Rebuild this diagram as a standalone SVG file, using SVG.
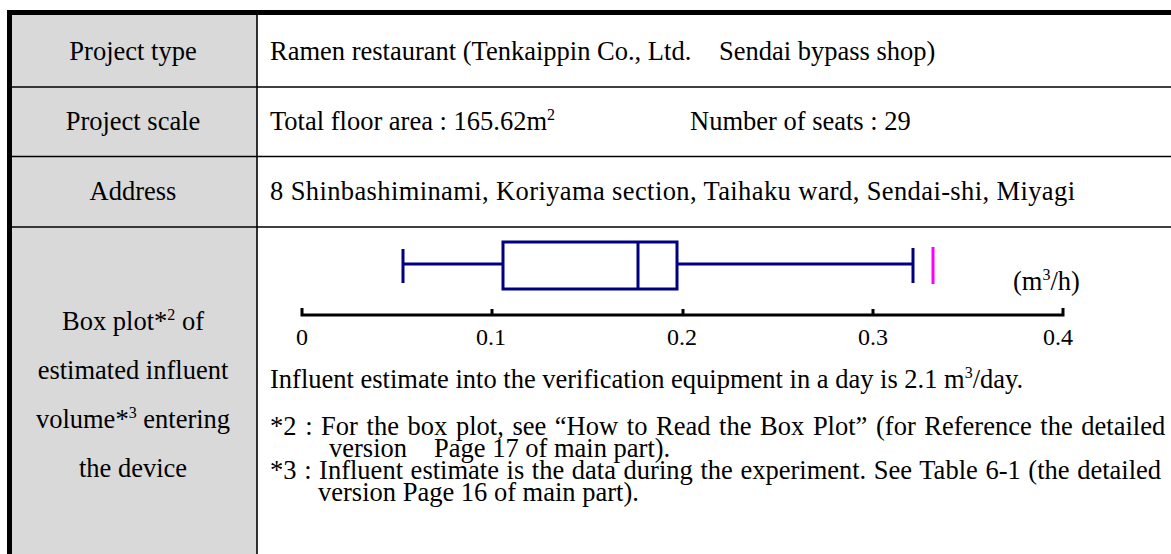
<svg xmlns="http://www.w3.org/2000/svg" width="1171" height="554" viewBox="0 0 1171 554">
<style>
text{font-family:"Liberation Serif","Times New Roman",serif;font-size:26.5px;fill:#000}
.c{text-anchor:middle}
.t{font-size:24px;text-anchor:middle}
.s{font-size:16px}
.rule{stroke:#000;stroke-width:1.6;fill:none}
.bp{stroke:#000080;stroke-width:3;fill:none}
.ax{stroke:#000;stroke-width:3;fill:none}
</style>
<rect width="1171" height="554" fill="#fff"/>
<g id="frame">
<rect x="12" y="15" width="245" height="539" fill="#d9d9d9"/>
<line class="rule" x1="257" y1="15" x2="257" y2="554" stroke-width="2"/>
<line class="rule" x1="12" y1="87" x2="1171" y2="87"/>
<line class="rule" x1="12" y1="156.5" x2="1171" y2="156.5"/>
<line class="rule" x1="12" y1="227" x2="1171" y2="227"/>
<rect x="7" y="10" width="5" height="544" fill="#000"/>
<rect x="7" y="10" width="1164" height="5" fill="#000"/>
</g>
<g id="row-type">
<text class="c" x="133" y="60">Project type</text>
<text x="270" y="60">Ramen restaurant (Tenkaippin Co., Ltd.<tspan x="719">Sendai bypass shop)</tspan></text>
</g>
<g id="row-scale">
<text class="c" x="133" y="130">Project scale</text>
<text x="270" y="130">Total floor area : 165.62m<tspan class="s" dy="-10">2</tspan></text>
<text x="690" y="130">Number of seats : 29</text>
</g>
<g id="row-address">
<text class="c" x="133" y="200">Address</text>
<text x="270" y="200" textLength="805" lengthAdjust="spacing">8 Shinbashiminami, Koriyama section, Taihaku ward, Sendai-shi, Miyagi</text>
</g>
<g id="row-boxplot">
<text class="c" x="133" y="330">Box plot*<tspan class="s" dy="-10">2</tspan><tspan dy="10"> of</tspan></text>
<text class="c" x="133" y="379">estimated influent</text>
<text class="c" x="133" y="428">volume*<tspan class="s" dy="-10">3</tspan><tspan dy="10"> entering</tspan></text>
<text class="c" x="133" y="477">the device</text>
<g id="plot">
<path class="ax" d="M302,308V315H1063V308M492,315V309M683,315V309M873,315V309"/>
<text class="t" x="302" y="345">0</text>
<text class="t" x="491" y="345">0.1</text>
<text class="t" x="682" y="345">0.2</text>
<text class="t" x="873" y="345">0.3</text>
<text class="t" x="1058" y="345">0.4</text>
<path class="bp" d="M403,249V283M403,264H503M677,264H913M913,248V283"/>
<rect class="bp" x="503" y="242" width="174" height="47"/>
<line class="bp" x1="638" y1="242" x2="638" y2="289"/>
<line x1="933" y1="247" x2="933" y2="284" stroke="#ff00ff" stroke-width="3"/>
<text x="1013" y="290" font-size="24">(m<tspan class="s" dy="-10">3</tspan><tspan dy="10">/h)</tspan></text>
</g>
<text x="270" y="388">Influent estimate into the verification equipment in a day is 2.1 m<tspan class="s" dy="-10">3</tspan><tspan dy="10">/day.</tspan></text>
<text x="270" y="435" word-spacing="2">*2 : For the box plot, see “How to Read the Box Plot” (for Reference the detailed</text>
<text x="329" y="457">version<tspan x="434">Page 17 of main part).</tspan></text>
<text x="270" y="479" word-spacing="1">*3 : Influent estimate is the data during the experiment. See Table 6-1 (the detailed</text>
<text x="318" y="501">version Page 16 of main part).</text>
</g>
</svg>
